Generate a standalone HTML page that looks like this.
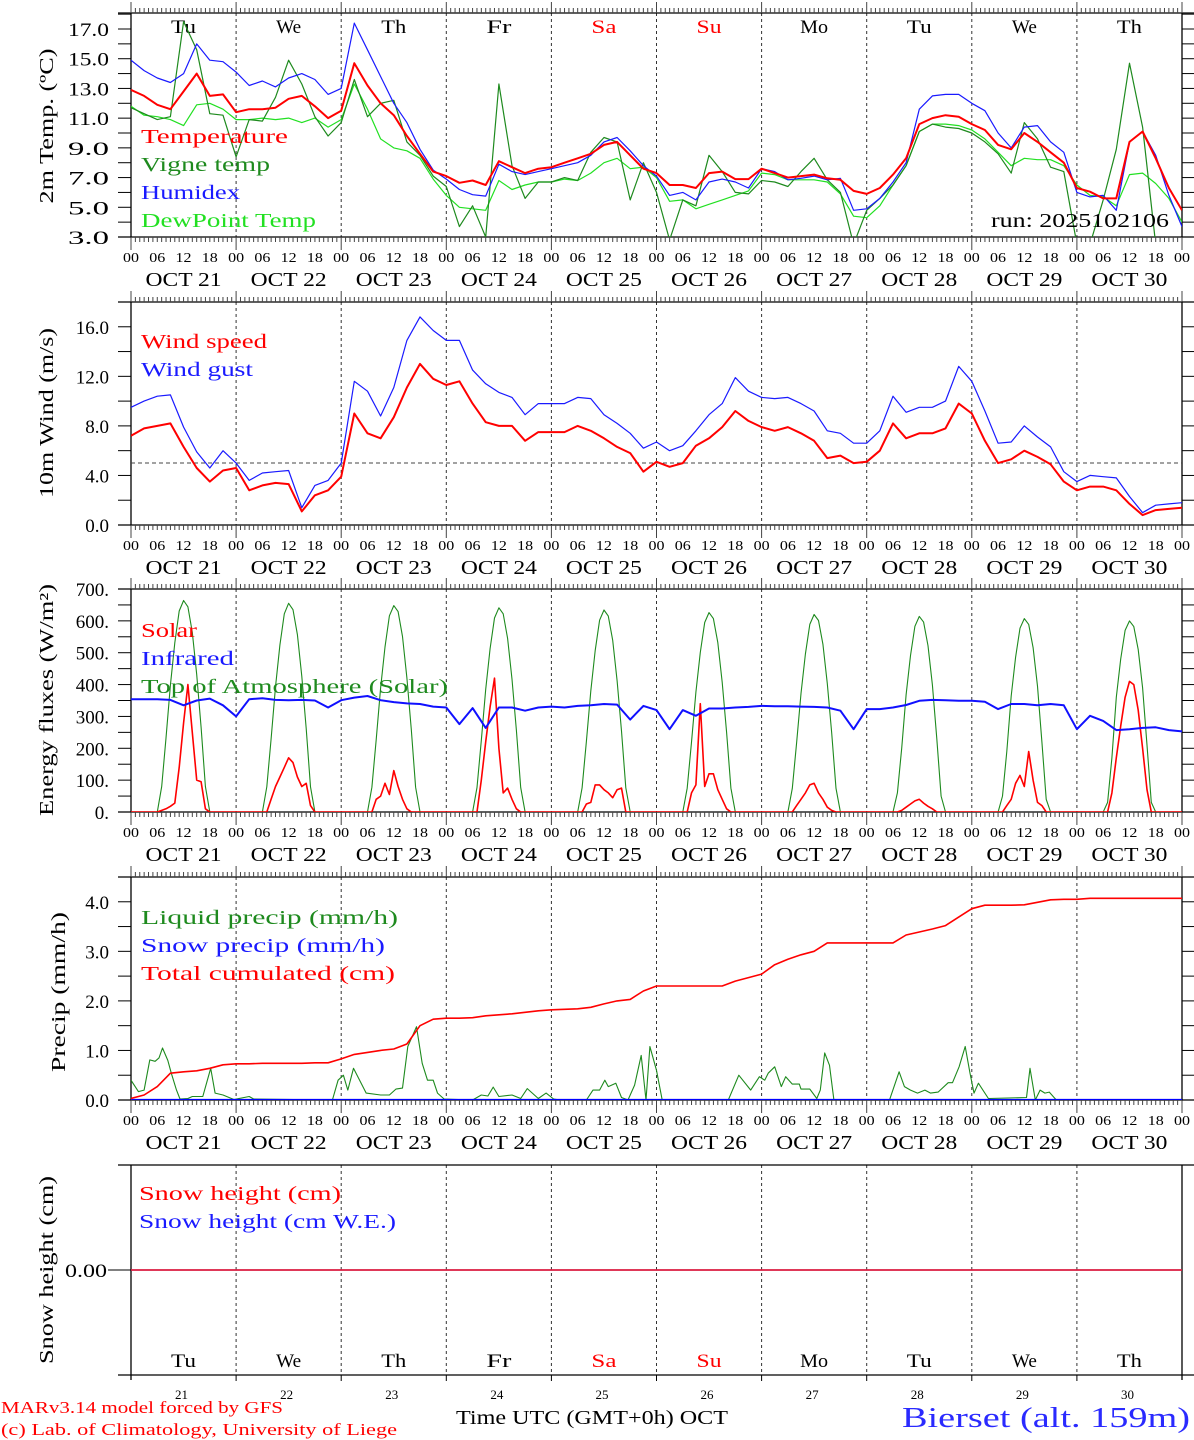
<!DOCTYPE html>
<html><head><meta charset="utf-8">
<style>
html,body{margin:0;padding:0;background:#fff;}
svg{display:block;font-family:"Liberation Serif",serif;}
</style></head>
<body>
<svg id="chart" width="1194" height="1440" viewBox="0 0 1194 1440" xmlns="http://www.w3.org/2000/svg"></svg>
<script>
// ---------- DATA ----------
const hours3 = [];
for (let h = 0; h <= 240; h += 3) hours3.push(h);
const dayNames = ["Tu","We","Th","Fr","Sa","Su","Mo","Tu","We","Th"];
const dayDates = ["21","22","23","24","25","26","27","28","29","30"];
const hourTicks = ["00","06","12","18"];

const tempRed = [12.9,12.5,11.9,11.6,12.8,14.0,12.5,12.6,11.4,
 11.6,11.6,11.7,12.3,12.5,11.8,11.0,11.5,
 14.7,13.2,12.0,11.2,9.8,8.6,7.4,7.1,
 6.65,6.8,6.5,8.1,7.7,7.3,7.6,7.7,
 8.0,8.3,8.6,9.2,9.4,8.5,7.6,7.3,
 6.5,6.5,6.3,7.3,7.4,6.9,6.9,7.6,
 7.3,7.0,7.1,7.2,6.95,6.85,6.1,5.9,
 6.3,7.2,8.3,10.6,11.0,11.2,11.1,10.6,
 10.2,9.2,8.9,10.0,9.4,8.7,8.0,6.3,
 6.05,5.6,5.6,9.4,10.1,8.3,6.3,4.8];
const humidex = [14.9,14.2,13.7,13.4,14.0,16.0,14.9,14.8,14.1,
 13.2,13.5,13.1,13.7,14.0,13.6,12.6,13.0,
 17.4,15.6,13.8,12.0,10.7,8.9,7.5,6.9,
 6.2,5.85,5.75,7.9,7.4,7.2,7.4,7.6,
 7.8,8.0,8.5,9.4,9.7,8.8,7.8,7.1,
 5.8,6.0,5.5,6.7,6.9,6.7,6.3,7.6,
 7.4,6.85,6.95,7.1,6.85,6.95,4.8,4.9,
 5.6,6.7,8.0,11.6,12.5,12.6,12.6,12.0,
 11.5,10.0,9.0,10.4,10.5,9.4,8.7,6.0,
 5.7,5.8,4.8,9.4,10.1,8.5,5.8,3.7];
const dewPoint = [11.8,11.2,11.1,10.9,10.5,11.9,12.0,11.6,10.9,
 10.9,11.0,10.9,11.0,10.7,11.0,10.4,10.9,
 13.3,11.6,9.6,9.0,8.8,8.3,6.9,5.8,
 5.0,4.9,4.8,6.8,6.2,6.5,6.7,6.7,
 6.9,6.8,7.3,8.0,8.3,7.6,7.7,7.0,
 5.4,5.5,4.9,5.2,5.5,5.8,6.1,7.3,
 7.2,6.85,6.85,6.85,6.7,5.9,4.4,4.3,
 5.1,6.5,7.8,10.1,10.6,10.6,10.5,10.2,
 9.6,8.7,7.8,8.3,8.2,8.2,7.8,6.5,
 5.8,5.7,5.1,7.2,7.3,6.6,5.6,4.0];
const vigneTemp = [11.7,11.3,10.9,11.1,17.5,15.6,11.3,11.2,8.4,
 10.9,10.8,12.4,14.9,13.3,11.1,9.8,10.7,
 13.6,11.1,12.0,12.2,9.4,8.5,7.1,6.4,
 3.7,5.1,3.0,13.3,7.8,5.6,6.7,6.7,
 7.0,6.8,8.7,9.7,9.4,5.5,8.0,6.0,
 2.8,5.5,5.1,8.5,7.4,6.0,5.9,6.8,
 6.7,6.4,7.4,8.3,6.85,6.0,2.5,4.8,
 5.6,6.5,7.8,10.1,10.6,10.4,10.3,10.0,
 9.4,8.6,7.3,10.7,9.6,7.7,7.4,2.5,
 2.5,5.5,8.9,14.7,10.4,2.5,2.5,2.5];

const windSpeed = [7.2,7.8,8.0,8.2,6.3,4.6,3.5,4.4,4.6,
 2.8,3.2,3.4,3.3,1.1,2.4,2.8,3.9,
 9.0,7.4,7.0,8.7,11.1,13.0,11.8,11.3,
 11.6,9.8,8.3,8.0,8.0,6.8,7.5,7.5,
 7.5,8.0,7.6,7.0,6.3,5.8,4.3,5.1,
 4.7,5.0,6.4,7.0,7.9,9.2,8.4,7.9,
 7.6,7.9,7.4,6.8,5.4,5.6,5.0,5.1,
 6.0,8.2,7.0,7.4,7.4,7.8,9.8,9.0,
 6.8,5.0,5.3,6.0,5.5,4.9,3.5,2.8,
 3.1,3.1,2.8,1.7,0.8,1.2,1.3,1.4];
const windGust = [9.5,10.0,10.4,10.5,7.9,5.9,4.6,6.0,5.0,
 3.6,4.2,4.3,4.4,1.4,3.2,3.6,5.0,
 11.6,10.8,8.8,11.1,14.9,16.8,15.7,14.9,
 14.9,12.5,11.4,10.7,10.3,8.9,9.8,9.8,
 9.8,10.3,10.2,8.9,8.2,7.4,6.2,6.7,
 6.0,6.4,7.6,8.9,9.8,11.9,10.8,10.3,
 10.2,10.3,9.8,9.2,7.6,7.4,6.6,6.6,
 7.6,10.4,9.1,9.5,9.5,10.0,12.8,11.6,
 9.2,6.6,6.7,8.0,7.1,6.3,4.3,3.5,
 4.0,3.9,3.8,2.3,1.0,1.6,1.7,1.8];
const windRef = [5.0];

const infrared = [354,354,354,352,335,350,356,335,300,
 354,357,352,351,352,350,328,351,
 359,364,351,345,341,339,331,328,
 276,326,264,328,328,318,328,331,
 328,333,335,339,337,290,333,320,
 260,320,302,325,325,328,330,333,
 332,332,331,330,328,318,260,323,
 323,328,336,349,352,351,349,349,
 346,323,339,339,335,339,335,260,
 302,286,257,260,264,266,257,253];
// daytime hourly values, hours 06..18 of each day
const solarDays = [
 [0,5,10,18,28,140,280,400,250,100,95,10,0],
 [0,0,40,80,110,140,170,155,110,80,90,20,0],
 [0,0,40,50,90,55,130,80,40,10,0,0,0],
 [0,0,100,220,330,420,200,60,75,40,10,0,0],
 [0,0,25,30,85,85,70,60,45,70,75,0,0],
 [0,0,60,85,340,80,120,120,70,40,10,0,0],
 [0,0,20,40,60,85,90,60,40,15,5,0,0],
 [0,0,5,15,25,35,40,28,18,10,0,0,0],
 [0,0,20,40,90,115,80,190,100,30,20,0,0],
 [0,0,60,170,270,360,410,400,320,200,70,0,0]];
const toaDays = [
 [0,80,232,398,531,631,664,644,564,432,266,80,0],
 [0,79,229,393,524,622,655,635,557,426,262,79,0],
 [0,78,227,389,518,616,648,629,551,421,259,78,0],
 [0,77,224,385,513,609,641,622,545,417,256,77,0],
 [0,76,222,380,507,602,634,615,539,412,254,76,0],
 [0,75,219,376,501,595,626,607,532,407,250,75,0],
 [0,74,217,372,496,589,620,601,527,403,248,74,0],
 [0,60,200,368,491,583,614,596,522,399,230,50,0],
 [0,50,190,364,486,577,607,589,516,395,220,40,0],
 [0,30,170,360,480,570,600,582,510,390,210,30,0]];

const liquidHours = [0,1.7,3,4.3,5.5,6.4,7.2,8.4,9.2,10.4,11.2,13,14,16.4,18.2,19.2,21,23.5,27,28,46,47.3,48.5,49.5,50.8,53.7,57,59,60.5,62,63.2,65.2,66.5,67.7,69,70,71.5,78,80,81.5,82.7,84,87,89,90.5,93,94.8,96.5,98,104,105.5,107,108.2,109,110.7,112,113.5,115,116.5,117.6,118.5,120,121.3,136.4,138.8,141.5,143.5,144.7,145.5,147,148.5,149.5,151,152.6,153,155,156.6,157.4,158.4,159.5,160.5,173.2,175.4,176.6,178,179.6,181.3,182.6,184.3,186.6,187.6,189.1,190.5,191.6,192.5,193.5,195.8,204.5,205.3,206.5,207.6,208.7,209.7,211.3,240];
const liquidVals = [0.4,0.17,0.2,0.81,0.78,0.85,1.05,0.8,0.54,0.2,0.02,0.03,0.07,0.07,0.64,0.14,0.1,0.01,0.07,0.02,0.0,0.4,0.5,0.2,0.64,0.14,0.1,0.1,0.22,0.24,1.08,1.48,0.74,0.4,0.4,0.14,0.02,0.0,0.1,0.08,0.26,0.07,0.1,0.03,0.23,0.03,0.14,0.02,0.0,0.0,0.2,0.2,0.4,0.27,0.34,0.05,0.0,0.3,0.9,0.0,1.08,0.6,0.0,0.0,0.5,0.2,0.47,0.4,0.54,0.67,0.27,0.47,0.32,0.32,0.22,0.22,0.03,0.2,0.95,0.7,0.0,0.0,0.57,0.27,0.2,0.14,0.2,0.14,0.16,0.35,0.35,0.67,1.08,0.54,0.14,0.34,0.03,0.05,0.64,0.0,0.2,0.14,0.16,0.0,0.0];
const cumulPrecip = [0.03,0.1,0.27,0.54,0.57,0.59,0.64,0.71,0.73,
 0.73,0.74,0.74,0.74,0.74,0.75,0.75,0.83,
 0.92,0.96,1.0,1.03,1.13,1.5,1.63,1.65,
 1.65,1.66,1.7,1.72,1.74,1.77,1.8,1.82,
 1.83,1.84,1.87,1.94,2.0,2.03,2.2,2.3,
 2.3,2.3,2.3,2.3,2.3,2.4,2.47,2.54,
 2.73,2.84,2.93,3.0,3.17,3.17,3.17,3.17,
 3.17,3.17,3.33,3.39,3.45,3.52,3.69,3.86,
 3.93,3.93,3.93,3.94,3.99,4.04,4.05,4.05,
 4.07,4.07,4.07,4.07,4.07,4.07,4.07,4.07];
const snowPrecip = hours3.map(() => 0);
const snowHeight = hours3.map(() => 0);
const snowWE = hours3.map(() => 0);

const tempTicks = [3,5,7,9,11,13,15,17];
const windTicks = [0,4,8,12,16];
const energyTicks = [0,100,200,300,400,500,600,700];
const precipTicks = [0,1,2,3,4];

// ---------- LAYOUT ----------
const NS = "http://www.w3.org/2000/svg";
const svg = document.getElementById("chart");
const X0 = 131, X1 = 1182, HMAX = 240;
function xs(h){ return X0 + (X1 - X0) * h / HMAX; }
const P = [
 {top:13, bot:237, min:3, max:18.077, minor:1, name:"temperature"},
 {top:302, bot:525, min:0, max:18.0, minor:2, name:"wind"},
 {top:589, bot:812, min:0, max:700, minor:50, name:"energy"},
 {top:877, bot:1100, min:0, max:4.5, minor:0.5, name:"precip"},
 {top:1165, bot:1375, min:-1, max:1, minor:0, name:"snow"}];
function ys(p, v){ return p.bot - (v - p.min) / (p.max - p.min) * (p.bot - p.top); }

function mk(tag, attrs, parent){
  const e = document.createElementNS(NS, tag);
  for (const k in attrs) e.setAttribute(k, attrs[k]);
  (parent || svg).appendChild(e);
  return e;
}
function txt(x, y, s, size, fill, anchor, len, parent){
  const a = {x:x, y:y, "font-size":size, fill:fill, "text-anchor":anchor||"start"};
  if (len) { a.textLength = len; a.lengthAdjust = "spacingAndGlyphs"; }
  const e = mk("text", a, parent);
  e.textContent = s;
  return e;
}
function line(x1,y1,x2,y2,stroke,w,dash,parent){
  const a = {x1:x1,y1:y1,x2:x2,y2:y2,stroke:stroke,"stroke-width":w||1};
  if (dash) a["stroke-dasharray"] = dash;
  return mk("line", a, parent);
}
function pathFrom(p, hs, vs){
  let d = "";
  for (let i = 0; i < hs.length; i++) d += (i ? "L" : "M") + xs(hs[i]).toFixed(1) + "," + ys(p, vs[i]).toFixed(1);
  return d;
}

// defs / clips
const defs = mk("defs", {});
P.forEach((p, i) => {
  const cp = mk("clipPath", {id:"clip" + i}, defs);
  mk("rect", {x:X0, y:p.top, width:X1 - X0, height:p.bot - p.top}, cp);
});

// frames, ticks, grid
P.forEach((p, pi) => {
  const g = mk("g", {});
  
  
  for (let d = 1; d < 10; d++) {
    const l = line(xs(d*24), p.top, xs(d*24), p.bot, "#333", 1, "3,3", g);
    
  }
  const hl1 = line(118, p.top, 1194, p.top, "#000", 1.3, null, g);
  
  const hl2 = line(118, p.bot, 1194, p.bot, "#000", 1.3, null, g);
  
  const vl1 = line(X0, p.top, X0, p.bot + (pi == 4 ? 5 : 0), "#000", 1.3, null, g);
  
  const vl2 = line(X1, p.top, X1, p.bot + (pi == 4 ? 5 : 0), "#000", 1.3, null, g);
  
  if (pi < 4) {
    for (let h = 0; h <= 240; h++) {
      const major = h % 24 === 0;
      const t1 = line(xs(h), p.top, xs(h), p.top - (major ? 11 : 5), "#444", 1, null, g);
      
      const t2 = line(xs(h), p.bot, xs(h), p.bot + (major ? 13 : 5), "#444", 1, null, g);
      
    }
    for (let v = p.min; v <= p.max + 1e-6; v += p.minor) {
      const y = ys(p, v);
      const a = line(118, y, X0, y, "#000", 1, null, g);
      
      const b = line(X1, y, 1194, y, "#000", 1, null, g);
      
    }
    for (let d = 0; d <= 10; d++) {
      for (let k = 0; k < 4; k++) {
        if (d === 10 && k > 0) break;
        const t = txt(xs(d*24 + k*6), p.bot + 25, hourTicks[k], 14, "#000", "middle", 16, g);
        
      }
      if (d < 10) {
        const t = txt(xs(d*24 + 12), p.bot + 49, "OCT " + dayDates[d], 20, "#000", "middle", 76, g);
        
      }
    }
  } else {
    const t0 = line(108, ys(p, 0), X0, ys(p, 0), "#000", 1, null, g);
    
    for (let d = 1; d < 10; d++) {
      const t = line(xs(d*24), p.bot, xs(d*24), p.bot + 6, "#000", 1, null, g);
      
    }
  }
});

// y tick labels
tempTicks.forEach(v => {
  const t = txt(109, ys(P[0], v) + 7, v.toFixed(1), 19, "#000", "end", 41);
  
});
windTicks.forEach(v => {
  const t = txt(109, ys(P[1], v) + 7, v.toFixed(1), 19, "#000", "end", null);
  
});
energyTicks.forEach(v => {
  const t = txt(109, ys(P[2], v) + 7, v + ".", 19, "#000", "end", null);
  
});
precipTicks.forEach(v => {
  const t = txt(109, ys(P[3], v) + 7, v.toFixed(1), 19, "#000", "end", null);
  
});
const snowLab = txt(107, ys(P[4], 0) + 7, "0.00", 19, "#000", "end", 42);


function ytitle(cx, cy, s, len, name){
  const t = txt(cx, cy, s, 20, "#000", "middle", len);
  t.setAttribute("transform", "rotate(-90 " + cx + " " + cy + ")");
  
  return t;
}
ytitle(53, 126, "2m Temp. (\u00BAC)", 155, 'temp-y-title');
ytitle(53, 413, "10m Wind (m/s)", 170, 'wind-y-title');
ytitle(53, 700, "Energy fluxes (W/m\u00B2)", 232, 'energy-y-title');
ytitle(65, 992, "Precip (mm/h)", 160, 'precip-y-title');
ytitle(53, 1270, "Snow height (cm)", 188, 'snow-y-title');

dayNames.forEach((n, d) => {
  const col = (n === "Sa" || n === "Su") ? "#ff0000" : "#000";
  const a = txt(xs(d*24 + 12), 33, n, 19, col, "middle", n === "Mo" ? 28 : 25);
  
  const b = txt(xs(d*24 + 12), 1367, n, 19, col, "middle", n === "Mo" ? 28 : 25);
  
  const c = txt(xs(d*24 + 12) - 2, 1399, dayDates[d], 13, "#000", "middle", null);
  
});

function series(pi, hs, vs, color, w){
  return mk("path", {d:pathFrom(P[pi], hs, vs), fill:"none", stroke:color, "stroke-width":w, "stroke-linejoin":"round", "clip-path":"url(#clip" + pi + ")"});
}
let s;
s = series(0, hours3, dewPoint, "#22e022", 1.2); 
s = series(0, hours3, vigneTemp, "#1e8a1e", 1.2); 
s = series(0, hours3, humidex, "#1a1aff", 1.2); 
s = series(0, hours3, tempRed, "#ff0000", 2); 
const refL = line(X0, ys(P[1], windRef[0]), X1, ys(P[1], windRef[0]), "#444", 1, "4,3");

s = series(1, hours3, windGust, "#1a1aff", 1.2); 
s = series(1, hours3, windSpeed, "#ff0000", 2); 
function dayly(arr){
  const hs = [0], vs = [0];
  arr.forEach((day, d) => day.forEach((v, i) => { hs.push(d*24 + 6 + i); vs.push(v); }));
  hs.push(240); vs.push(0);
  return [hs, vs];
}
const toa = dayly(toaDays), sol = dayly(solarDays);
s = series(2, toa[0], toa[1], "#1e8a1e", 1.1); 
s = series(2, sol[0], sol[1], "#ff0000", 1.6); 
s = series(2, hours3, infrared, "#1010ff", 2); 
s = series(3, liquidHours, liquidVals, "#1e8a1e", 1.1); 
s = series(3, hours3, snowPrecip, "#0000ff", 2.2); 
s = series(3, hours3, cumulPrecip, "#ff0000", 1.6); 
s = series(4, hours3, snowWE, "#0000ff", 1.5); 
s = series(4, hours3, snowHeight, "#ff2020", 1.6); 

function leg(y, s, col, len, name){
  const t = txt(141, y, s, 20, col, "start", len);
  
}
leg(143, "Temperature", "#ff0000", 147, 'legend-temperature');
leg(171, "Vigne temp", "#1e8a1e", 129, 'legend-vigne-temp');
leg(199, "Humidex", "#1a1aff", 99, 'legend-humidex');
leg(227, "DewPoint Temp", "#22e022", 175, 'legend-dewpoint');
leg(348, "Wind speed", "#ff0000", 126, 'legend-wind-speed');
leg(376, "Wind gust", "#1a1aff", 112, 'legend-wind-gust');
leg(637, "Solar", "#ff0000", 56, 'legend-solar');
leg(665, "Infrared", "#1a1aff", 93, 'legend-infrared');
leg(693, "Top of Atmosphere (Solar)", "#1e8a1e", 307, 'legend-toa');
leg(924, "Liquid precip (mm/h)", "#1e8a1e", 257, 'legend-liquid-precip');
leg(952, "Snow precip (mm/h)", "#1a1aff", 244, 'legend-snow-precip');
leg(980, "Total cumulated (cm)", "#ff0000", 254, 'legend-total-cumulated');
const l1 = txt(139, 1200, "Snow height (cm)", 20, "#ff0000", "start", 202);

const l2 = txt(139, 1228, "Snow height (cm W.E.)", 20, "#1a1aff", "start", 257);


const run = txt(991, 227, "run: 2025102106", 20, "#000", "start", 178);


const f1 = txt(1, 1413, "MARv3.14 model forced by GFS", 17, "#ff0000", "start", 282);

const f2 = txt(1, 1435, "(c) Lab. of Climatology, University of Liege", 17, "#ff0000", "start", 396);

const xt = txt(456, 1424, "Time UTC (GMT+0h) OCT", 20, "#000", "start", 272);

const st = txt(902, 1427, "Bierset (alt. 159m)", 28, "#2a2aff", "start", 288);

</script>
</body></html>
